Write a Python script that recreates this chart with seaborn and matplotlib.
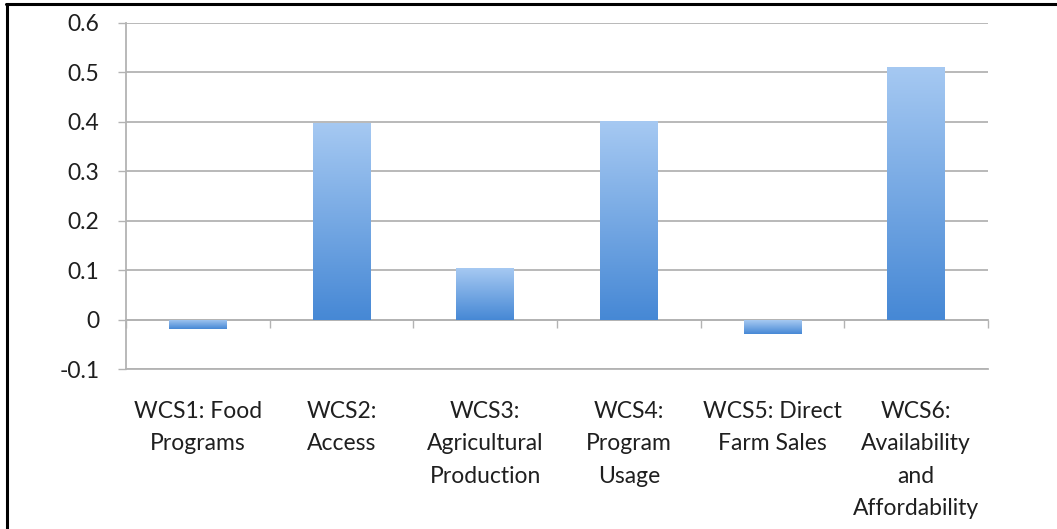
import numpy as np
import pandas as pd
import matplotlib
matplotlib.use("Agg")
import matplotlib.pyplot as plt
import seaborn as sns
from matplotlib.ticker import FuncFormatter, FixedLocator
from matplotlib.lines import Line2D
from matplotlib.colors import LinearSegmentedColormap

categories = ["WCS1: Food\nPrograms", "WCS2:\nAccess", "WCS3:\nAgricultural\nProduction",
              "WCS4:\nProgram\nUsage", "WCS5: Direct\nFarm Sales",
              "WCS6:\nAvailability\nand\nAffordability"]
values = [-0.019, 0.398, 0.105, 0.401, -0.028, 0.511]
y_ticks = [-0.1, 0, 0.1, 0.2, 0.3, 0.4, 0.5, 0.6]

sns.set_theme(style="white")
plt.rcParams['font.family'] = ['Lato', 'DejaVu Sans']
plt.rcParams['axes.unicode_minus'] = False

GRID = "#b3b3b3"
TEXT = "#1f1f1f"

fig = plt.figure(figsize=(10.57, 5.29), dpi=100)
ax = fig.add_axes([126/1057, 1-369.3/529, 862/1057, (369.3-22.7)/529])

df = pd.DataFrame({"cat": categories, "val": values})
sns.barplot(data=df, x="cat", y="val", ax=ax, width=0.4, color="#5b9be0",
            edgecolor="none", linewidth=0)

# gradient fills
cmap = LinearSegmentedColormap.from_list("g", ["#4688d5", "#a6c9f2"])
grad = np.linspace(0, 1, 256).reshape(-1, 1)
for p in ax.patches:
    x0, y0 = p.get_x(), p.get_y()
    w, h = p.get_width(), p.get_height()
    ylo, yhi = min(y0, y0 + h), max(y0, y0 + h)
    p.set_facecolor("none")
    im = ax.imshow(grad, extent=[x0, x0 + w, ylo, yhi], origin="lower",
                   cmap=cmap, aspect="auto", zorder=3, interpolation="bilinear")
    im.set_clip_path(p)
ax.set_xlim(-0.5, len(categories) - 0.5)
ax.set_ylim(-0.1, 0.6)

# y axis
ax.yaxis.set_major_locator(FixedLocator(y_ticks))
ax.yaxis.set_major_formatter(FuncFormatter(lambda v, pos: f"{v:g}"))
ax.grid(axis="y", color=GRID, linewidth=1.3, zorder=0)
ax.set_axisbelow(True)
ax.tick_params(axis="y", which="major", length=6, width=1.0, color=GRID,
               direction="out", pad=13, labelsize=16.5, labelcolor=TEXT, left=True)

# x axis labels
ax.tick_params(axis="x", which="major", length=0, pad=23, labelsize=16.5, labelcolor=TEXT)
for lab in ax.get_xticklabels():
    lab.set_linespacing(1.66)
    lab.set_verticalalignment("top")
ax.set_xlabel("")
ax.set_ylabel("")

for s in ["top", "right"]:
    ax.spines[s].set_visible(False)
ax.spines["left"].set_color(GRID)
ax.spines["left"].set_linewidth(1.3)
ax.spines["bottom"].set_color(GRID)
ax.spines["bottom"].set_linewidth(1.3)

# zero axis with category boundary ticks
sec = ax.secondary_xaxis(1/7)
sec.set_xticks(np.arange(-0.5, len(categories), 1.0))
sec.set_xticklabels([])
sec.tick_params(axis="x", length=6, width=1.0, color=GRID, direction="out")
sec.spines["bottom"].set_color(GRID)
sec.spines["bottom"].set_linewidth(1.3)
sec.spines["bottom"].set_zorder(4)

# image frame (top and left edges)
fig.add_artist(Line2D([6/1057, 1.0], [1-4.2/529, 1-4.2/529], transform=fig.transFigure,
                      color="black", linewidth=2.2))
fig.add_artist(Line2D([7/1057, 7/1057], [0, 1-4.2/529], transform=fig.transFigure,
                      color="black", linewidth=2.2))

fig.savefig("out.png", dpi=100)
